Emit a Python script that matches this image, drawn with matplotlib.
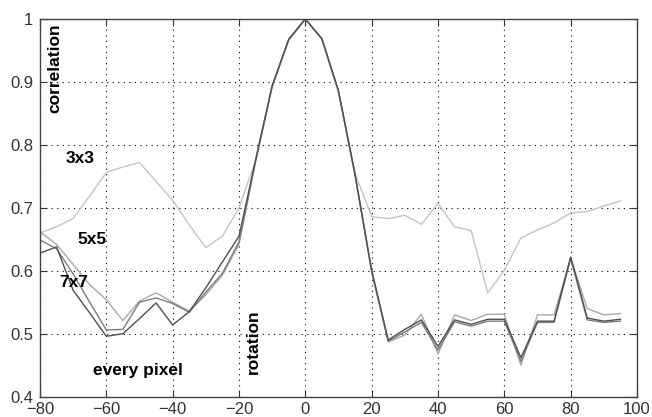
import matplotlib

matplotlib.use('Agg')
import matplotlib.pyplot as plt

# rotation angle in degrees
angles = list(range(-80, 100, 5))

corr_3x3 = [0.66, 0.670, 0.683, 0.719, 0.756, 0.765, 0.772, 0.742, 0.712, 0.673,
            0.637, 0.655, 0.700, 0.775, 0.893, 0.967, 1.0, 0.968, 0.885, 0.755,
            0.686, 0.683, 0.688, 0.674, 0.707, 0.670, 0.664, 0.565, 0.601, 0.652,
            0.665, 0.676, 0.692, 0.694, 0.703, 0.711]
corr_5x5 = [0.662, 0.642, 0.610, 0.578, 0.554, 0.521, 0.552, 0.565, 0.550, 0.536,
            0.562, 0.593, 0.642, 0.773, 0.892, 0.967, 1.0, 0.968, 0.884, 0.752,
            0.600, 0.487, 0.498, 0.531, 0.468, 0.530, 0.521, 0.531, 0.531, 0.450,
            0.530, 0.530, 0.620, 0.540, 0.530, 0.532]
corr_7x7 = [0.649, 0.635, 0.595, 0.550, 0.506, 0.507, 0.550, 0.557, 0.548, 0.534,
            0.566, 0.596, 0.646, 0.774, 0.893, 0.967, 1.0, 0.968, 0.885, 0.752,
            0.598, 0.488, 0.503, 0.518, 0.474, 0.519, 0.512, 0.520, 0.520, 0.456,
            0.518, 0.518, 0.620, 0.522, 0.518, 0.520]
corr_every = [0.628, 0.638, 0.569, 0.533, 0.496, 0.500, 0.524, 0.549, 0.514, 0.535,
              0.573, 0.614, 0.655, 0.776, 0.894, 0.968, 1.0, 0.969, 0.886, 0.753,
              0.601, 0.490, 0.507, 0.522, 0.480, 0.522, 0.515, 0.523, 0.523, 0.462,
              0.520, 0.520, 0.622, 0.525, 0.520, 0.523]

x_ticks = [-80, -60, -40, -20, 0, 20, 40, 60, 80, 100]
y_ticks = [0.4, 0.5, 0.6, 0.7, 0.8, 0.9, 1.0]
y_labels = ['0.4', '0.5', '0.6', '0.7', '0.8', '0.9', '1']

plt.rcParams['font.family'] = ['Liberation Sans', 'DejaVu Sans']

fig = plt.figure(figsize=(6.52, 4.17), dpi=100)
ax = fig.add_axes([0.0613, 0.0487, 0.9157, 0.9057])

ax.plot(angles, corr_3x3, color='#c4c4c4', lw=1.0)
ax.plot(angles, corr_5x5, color='#a8a8a8', lw=1.0)
ax.plot(angles, corr_7x7, color='#7c7c7c', lw=1.0)
ax.plot(angles, corr_every, color='#505050', lw=1.0)

ax.set_xlim(-80, 100)
ax.set_ylim(0.4, 1.0)
ax.set_xticks(x_ticks)
ax.set_yticks(y_ticks)
ax.set_yticklabels(y_labels)
ax.grid(True, color='black', linestyle=(0, (1, 4)), linewidth=0.8)
ax.tick_params(direction='in', length=5, top=True, right=True,
               labelsize=12, colors='#333333', labelcolor='#333333')
ax.tick_params(axis='x', pad=4)
ax.tick_params(axis='y', pad=5)
for s in ax.spines.values():
    s.set_color('#444444')
    s.set_linewidth(1.0)

txt = dict(fontsize=12.5, fontweight='bold', color='black', ha='center', va='center')
ax.text(-75.5, 0.922, 'correlation', rotation=90, **txt)
ax.text(-68, 0.778, '3x3', **txt)
ax.text(-64.3, 0.649, '5x5', **txt)
ax.text(-69.7, 0.582, '7x7', **txt)
ax.text(-50.6, 0.441, 'every pixel', **txt)
ax.text(-15.8, 0.488, 'rotation', rotation=90, **txt)

fig.savefig('out.png', dpi=100)
